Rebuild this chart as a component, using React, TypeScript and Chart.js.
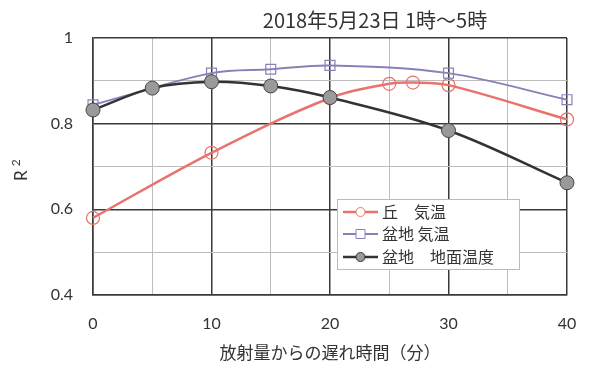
import React, { useEffect, useRef } from "react";
import { Chart, registerables } from "chart.js";

Chart.register(...registerables);

const titleText = "2018年5月23日 1時～5時";
const xTitle = "放射量からの遅れ時間（分）";
const yTitleBase = "R";
const yTitleSup = "2";

const hillX = [0, 10, 20, 25, 27, 30, 40];
const hillAir = [0.58, 0.732, 0.86, 0.893, 0.896, 0.89, 0.81];

const basinAirX = [0, 10, 15, 20, 30, 40];
const basinAir = [0.844, 0.918, 0.927, 0.936, 0.918, 0.856];

const basinGroundX = [0, 5, 10, 15, 20, 30, 40];
const basinGround = [0.832, 0.883, 0.898, 0.888, 0.861, 0.784, 0.662];

const seriesNames = ["丘　気温", "盆地 気温", "盆地　地面温度"];

const FONT = "Lato, 'Noto Sans CJK JP', sans-serif";
const JFONT = "'Noto Sans CJK JP', Lato, sans-serif";

const RED = "#e8736e";
const PURPLE = "#8a80b8";
const DARK = "#333333";
const GRAYFILL = "#9a9a9a";

const toPts = (xs: number[], ys: number[]) => xs.map((x, i) => ({ x, y: ys[i] }));

export default function App() {
  const ref = useRef<HTMLCanvasElement | null>(null);
  useEffect(() => {
    if (!ref.current) return;
    const overlay = {
      id: "overlay",
      afterDraw(chart: any) {
        const ctx = chart.ctx as CanvasRenderingContext2D;
        ctx.save();
        // title
        ctx.fillStyle = DARK;
        ctx.font = `20px ${JFONT}`;
        ctx.textAlign = "center";
        ctx.textBaseline = "middle";
        ctx.fillText(titleText, 375, 20);
        // y axis title R^2 (rotated)
        ctx.save();
        ctx.translate(27, 181);
        ctx.rotate(-Math.PI / 2);
        ctx.textAlign = "left";
        ctx.textBaseline = "alphabetic";
        ctx.font = `17px ${FONT}`;
        ctx.fillText(yTitleBase, 0, 0);
        const rw = ctx.measureText(yTitleBase).width;
        ctx.font = `12px ${FONT}`;
        ctx.fillText(yTitleSup, rw + 4, -7);
        ctx.restore();
        // legend
        const bx = 337, by = 199, bw = 182, bh = 70;
        ctx.fillStyle = "#ffffff";
        ctx.fillRect(bx, by, bw, bh);
        ctx.strokeStyle = "#bbbbbb";
        ctx.lineWidth = 1;
        ctx.strokeRect(bx + 0.5, by + 0.5, bw, bh);
        const rows = [212, 234, 257];
        const styles = [
          { c: RED, fill: "#ffffff", shape: "circle", lw: 2.5 },
          { c: PURPLE, fill: "#ffffff", shape: "rect", lw: 2 },
          { c: DARK, fill: GRAYFILL, shape: "circle", lw: 2.5 },
        ];
        rows.forEach((y, i) => {
          const s = styles[i];
          ctx.strokeStyle = s.c;
          ctx.lineWidth = s.lw;
          ctx.beginPath();
          ctx.moveTo(343, y);
          ctx.lineTo(378, y);
          ctx.stroke();
          ctx.lineWidth = 1;
          ctx.fillStyle = s.fill;
          ctx.beginPath();
          if (s.shape === "circle") {
            ctx.arc(360.5, y, 4.5, 0, Math.PI * 2);
          } else {
            ctx.rect(356, y - 4.5, 9, 9);
          }
          ctx.fill();
          ctx.stroke();
          ctx.fillStyle = DARK;
          ctx.font = `16px ${JFONT}`;
          ctx.textAlign = "left";
          ctx.textBaseline = "middle";
          ctx.fillText(seriesNames[i], 382, y);
        });
        ctx.restore();
      },
    };
    const chart = new Chart(ref.current, {
      type: "line",
      data: {
        datasets: [
          {
            label: seriesNames[2],
            data: toPts(basinGroundX, basinGround),
            borderColor: DARK,
            backgroundColor: GRAYFILL,
            pointBackgroundColor: GRAYFILL,
            pointBorderColor: "#444",
            pointBorderWidth: 1,
            pointRadius: 7,
            pointStyle: "circle",
            borderWidth: 2.5,
            tension: 0.35,
            order: 0,
            clip: false as any,
          },
          {
            label: seriesNames[1],
            data: toPts(basinAirX, basinAir),
            borderColor: PURPLE,
            backgroundColor: "rgba(255,255,255,0)",
            pointBackgroundColor: "rgba(255,255,255,0)",
            pointBorderColor: PURPLE,
            pointBorderWidth: 1.2,
            pointRadius: 7,
            pointStyle: "rect",
            borderWidth: 2,
            tension: 0.35,
            order: 1,
            clip: false as any,
          },
          {
            label: seriesNames[0],
            data: toPts(hillX, hillAir),
            borderColor: RED,
            backgroundColor: "rgba(255,255,255,0)",
            pointBackgroundColor: "rgba(255,255,255,0)",
            pointBorderColor: RED,
            pointBorderWidth: 1.2,
            pointRadius: 6.5,
            pointStyle: "circle",
            borderWidth: 2.5,
            tension: 0.35,
            order: 2,
            clip: false as any,
          },
        ],
      },
      options: {
        animation: false,
        responsive: false,
        maintainAspectRatio: false,
        layout: { padding: { left: 0, top: 38, right: 33, bottom: 0 } },
        plugins: {
          legend: { display: false },
          tooltip: { enabled: false },
          title: { display: false },
        },
        scales: {
          x: {
            type: "linear",
            min: 0,
            max: 40,
            afterFit: (s: any) => {
              s.height = 85;
            },
            ticks: {
              stepSize: 5,
              autoSkip: false,
              maxRotation: 0,
              padding: 19,
              color: DARK,
              font: { family: FONT, size: 16 },
              callback: (v: any) => (Math.round(v) % 10 === 0 ? String(Math.round(v)) : ""),
            },
            grid: {
              drawTicks: false,
              color: (c: any) => (Math.round(c.tick.value) % 10 === 0 ? "#3a3a3a" : "#bdbdbd"),
              lineWidth: (c: any) => (Math.round(c.tick.value) % 10 === 0 ? 1.5 : 1),
            },
            border: { color: "#3a3a3a", width: 1.5 },
            title: {
              display: true,
              text: xTitle,
              color: DARK,
              font: { family: JFONT, size: 17 },
              padding: { top: 0, bottom: 17 },
            },
          },
          y: {
            type: "linear",
            min: 0.4,
            max: 1,
            afterFit: (s: any) => {
              s.width = 93;
            },
            ticks: {
              stepSize: 0.1,
              autoSkip: false,
              padding: 20,
              color: DARK,
              font: { family: FONT, size: 16 },
              callback: (v: any) => {
                const r = Math.round(v * 10);
                return r % 2 === 0 ? String(r / 10) : "";
              },
            },
            grid: {
              drawTicks: false,
              color: (c: any) => (Math.round(c.tick.value * 10) % 2 === 0 ? "#3a3a3a" : "#bdbdbd"),
              lineWidth: (c: any) => (Math.round(c.tick.value * 10) % 2 === 0 ? 1.5 : 1),
            },
            border: { color: "#3a3a3a", width: 1.5 },
          },
        },
      },
      plugins: [overlay],
    });
    return () => chart.destroy();
  }, []);
  return (
    <div style={{ position: "absolute", left: 0, top: 0, width: 600, height: 380, background: "#fff" }}>
      <canvas ref={ref} width={600} height={380} style={{ width: 600, height: 380 }} />
    </div>
  );
}
